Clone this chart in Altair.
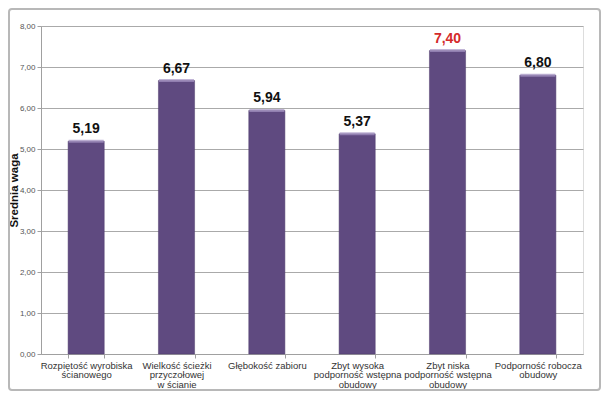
import altair as alt
import pandas as pd

categories = [
    "Rozpiętość wyrobiska\nścianowego",
    "Wielkość ścieżki\nprzyczołowej\nw ścianie",
    "Głębokość zabioru",
    "Zbyt wysoka\npodporność wstępna\nobudowy",
    "Zbyt niska\npodporność wstępna\nobudowy",
    "Podporność robocza\nobudowy",
]
values = [5.19, 6.67, 5.94, 5.37, 7.40, 6.80]
label_colors = ["#111111", "#111111", "#111111", "#111111", "#d42a2a", "#111111"]

df = pd.DataFrame({
    "cat": categories,
    "val": values,
    "lab": [f"{v:.2f}".replace(".", ",") for v in values],
    "lc": label_colors,
})

W, H = 542, 328
FONT = "Liberation Sans"

x = alt.X("cat:N", sort=None, title=None,
          scale=alt.Scale(paddingInner=0.6, paddingOuter=0.3),
          axis=alt.Axis(labelExpr="split(datum.label, '\\n')", labelAngle=0,
                        labelFontSize=9.5, labelColor="#333333", labelFont=FONT,
                        labelPadding=2, domainColor="#a0a0a0", tickColor="#a0a0a0",
                        tickBand="extent", tickSize=4, labelLineHeight=9.5))
y = alt.Y("val:Q", title="Średnia waga",
          scale=alt.Scale(domain=[0, 8], nice=False),
          axis=alt.Axis(values=[0, 1, 2, 3, 4, 5, 6, 7, 8],
                        labelExpr="replace(format(datum.value, '.2f'), '.', ',')",
                        labelFontSize=8, labelColor="#555555", labelFont=FONT,
                        labelPadding=2,
                        gridColor="#aaaaaa", domainColor="#a0a0a0", tickColor="#a0a0a0",
                        tickSize=4, titleFont=FONT, titleFontSize=11.5, titleFontWeight="bold",
                        titleColor="#111111", titleX=-27, titleY=H / 2, titleAngle=270,
                        titleAlign="center", titleBaseline="middle"))

base = alt.Chart(df)

frame = alt.Chart(pd.DataFrame({"a": [0]})).mark_rect(
    fill=None, stroke="#b8b8b8", strokeWidth=2, cornerRadius=3
).encode(x=alt.value(-32), x2=alt.value(559), y=alt.value(-17), y2=alt.value(364))

bars = base.mark_bar(color="#5f4a80", stroke="#4e3c6c", strokeWidth=0.5).encode(x=x, y=y)
tops = base.mark_tick(color="#a796c4", thickness=3, size=35).encode(x=x, y="val:Q")
text = base.mark_text(baseline="bottom", dy=-5, fontSize=14, fontWeight="bold", font=FONT).encode(
    x=x, y="val:Q", text="lab:N", color=alt.Color("lc:N", scale=None))

chart = alt.layer(frame, bars, tops, text).properties(
    width=W, height=H,
    autosize=alt.AutoSizeParams(type="none"),
    padding={"left": 33, "top": 18, "right": 18, "bottom": 37},
).configure_view(stroke=None).configure(background="white")

chart.save("out.html", embed_options={"renderer": "svg", "actions": False})
